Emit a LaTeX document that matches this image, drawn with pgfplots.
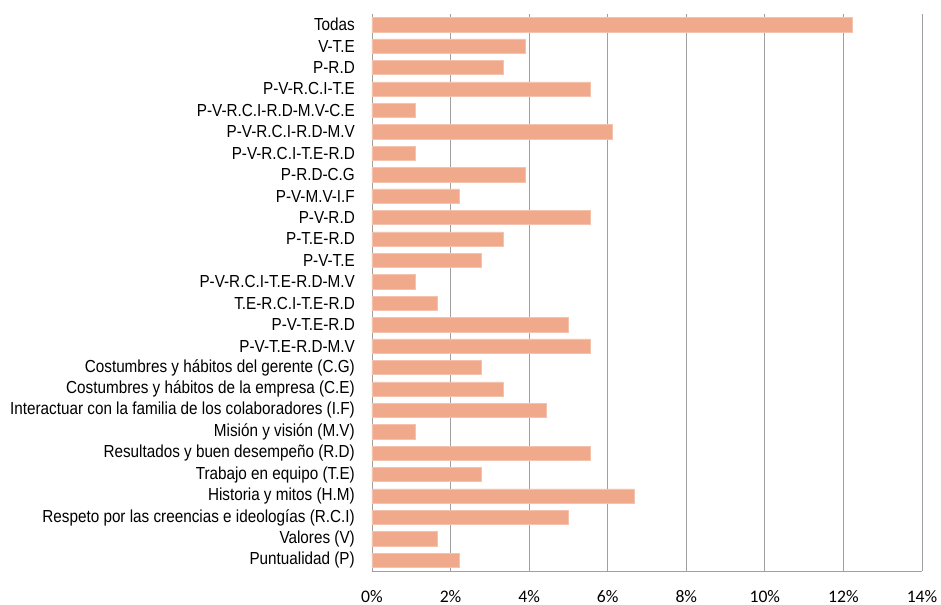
\documentclass[border=0pt]{standalone}
\usepackage{fontspec}
\usepackage{pgfplots}
\usepackage{pgfplotstable}
\pgfplotsset{compat=1.18}
\setmainfont{Liberation Sans}[FakeStretch=0.876]
\newfontfamily\tickfont{Carlito}
\definecolor{barfill}{RGB}{240,169,139}
\definecolor{gridgray}{RGB}{160,160,160}

% share of responses (%), listed top to bottom
\pgfplotstableread{
idx val
0  12.22
1  3.89
2  3.33
3  5.56
4  1.11
5  6.11
6  1.11
7  3.89
8  2.22
9  5.56
10 3.33
11 2.78
12 1.11
13 1.67
14 5.00
15 5.56
16 2.78
17 3.33
18 4.44
19 1.11
20 5.56
21 2.78
22 6.67
23 5.00
24 1.67
25 2.22
}\shares

\begin{document}
\begin{tikzpicture}
\path[use as bounding box] (-372bp,-34bp) rectangle (569bp,571bp);
\begin{axis}[
  at={(0,0)}, anchor=south west,
  scale only axis, width=550bp, height=557bp,
  xbar, bar width=0.667,
  xmin=0, xmax=14,
  ymin=-0.5, ymax=25.5,
  y dir=reverse,
  axis lines*=left,
  axis line style={gridgray, line width=0.8pt},
  xmajorgrids, grid style={gridgray, line width=0.8pt},
  major tick length=0pt,
  xtick={0,2,...,14},
  xticklabels={0\%,2\%,4\%,6\%,8\%,10\%,12\%,14\%},
  xticklabel style={font=\tickfont\fontsize{17.7}{20}\selectfont, inner sep=0pt, yshift=-19bp},
  ytick={0,...,25},
  yticklabels={
    {Todas},{V-T.E},{P-R.D},{P-V-R.C.I-T.E},{P-V-R.C.I-R.D-M.V-C.E},
    {P-V-R.C.I-R.D-M.V},{P-V-R.C.I-T.E-R.D},{P-R.D-C.G},{P-V-M.V-I.F},
    {P-V-R.D},{P-T.E-R.D},{P-V-T.E},{P-V-R.C.I-T.E-R.D-M.V},
    {T.E-R.C.I-T.E-R.D},{P-V-T.E-R.D},{P-V-T.E-R.D-M.V},
    {Costumbres y hábitos del gerente (C.G)},
    {Costumbres y hábitos de la empresa (C.E)},
    {Interactuar con la familia de los colaboradores (I.F)},
    {Misión y visión (M.V)},
    {Resultados y buen desempeño (R.D)},
    {Trabajo en equipo (T.E)},
    {Historia y mitos (H.M)},
    {Respeto por las creencias e ideologías (R.C.I)},
    {Valores (V)},
    {Puntualidad (P)}},
  yticklabel style={font=\fontsize{17.5}{20}\selectfont, inner sep=0pt, xshift=-17bp},
  clip=false,
]
\addplot[fill=barfill, draw=barfill!70!white, line width=0.5pt] table[x=val, y=idx] {\shares};
\end{axis}
\end{tikzpicture}
\end{document}
